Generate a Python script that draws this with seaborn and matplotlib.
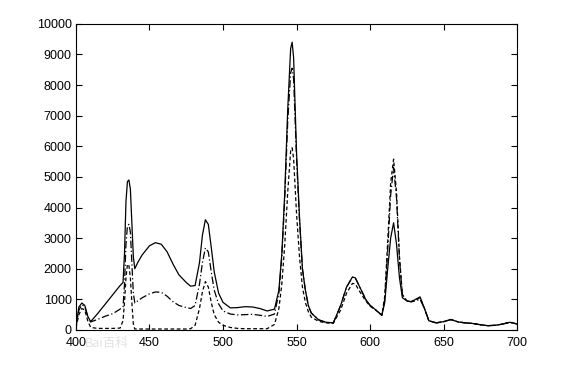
import numpy as np
import pandas as pd
import matplotlib
matplotlib.use("Agg")
import matplotlib.pyplot as plt
import seaborn as sns

# ============================================================
# Spectrum data
# ============================================================

wavelength = [400, 402, 404, 406, 408, 410, 415, 420, 425, 430,
              432, 433, 434, 435, 436, 437, 438, 439, 440, 442,
              445, 450, 454, 458, 462, 466, 470, 475, 478, 481,
              484, 486, 488, 490, 492, 494, 497, 500, 505, 510,
              515, 520, 525, 530, 535, 538, 540, 542, 544, 546,
              547, 548, 550, 552, 554, 556, 558, 560, 565, 570,
              575, 580, 584, 588, 590, 593, 597, 600, 604, 608,
              610, 612, 614, 616, 618, 620, 622, 625, 628, 631,
              634, 637, 640, 645, 650, 655, 660, 665, 670, 675,
              680, 685, 690, 695, 698, 700]

solid = [150, 750, 880, 800, 450, 270, 550, 850, 1150, 1450,
         1550, 2500, 4200, 4850, 4900, 4600, 3500, 2400, 2000, 2200,
         2450, 2750, 2850, 2800, 2550, 2150, 1800, 1550, 1430, 1450,
         2200, 3100, 3600, 3450, 2700, 1900, 1200, 900, 720, 730,
         760, 750, 700, 620, 680, 1300, 2500, 4500, 7200, 9200,
         9400, 8900, 5800, 3700, 2000, 1300, 800, 550, 330, 250,
         230, 800, 1400, 1730, 1700, 1400, 1000, 800, 650, 480,
         900, 2000, 3000, 3500, 2800, 1700, 1050, 950, 920, 1000,
         1080, 700, 300, 230, 270, 340, 260, 230, 210, 170,
         140, 150, 190, 250, 220, 190]

dashdot = [100, 650, 820, 760, 430, 260, 350, 450, 530, 680,
           750, 1500, 2800, 3400, 3450, 3200, 2200, 1200, 880, 950,
           1050, 1180, 1240, 1230, 1100, 920, 800, 730, 700, 800,
           1500, 2200, 2680, 2550, 1900, 1300, 850, 620, 520, 490,
           500, 510, 480, 440, 520, 1200, 2400, 4300, 6800, 8400,
           8550, 8200, 5600, 3600, 2000, 1300, 800, 560, 330, 250,
           230, 800, 1400, 1720, 1690, 1400, 1000, 800, 650, 480,
           1000, 2600, 4400, 5300, 4300, 2300, 1150, 950, 920, 950,
           1000, 700, 300, 230, 270, 340, 260, 230, 210, 170,
           140, 150, 190, 250, 220, 190]

dashed = [80, 500, 700, 650, 300, 80, 50, 50, 50, 60,
          300, 900, 1700, 2150, 2100, 1700, 900, 200, 30, 30,
          30, 30, 30, 30, 30, 30, 30, 30, 40, 150,
          700, 1250, 1580, 1400, 900, 500, 250, 150, 80, 50,
          40, 40, 40, 40, 180, 700, 1500, 2800, 4500, 5850,
          5950, 5600, 3800, 2400, 1400, 900, 600, 420, 280, 230,
          220, 650, 1200, 1520, 1500, 1250, 950, 780, 640, 480,
          1100, 2900, 4800, 5580, 4500, 2400, 1150, 950, 930, 980,
          1050, 700, 300, 230, 270, 340, 260, 230, 210, 170,
          140, 150, 190, 250, 220, 190]

df = pd.DataFrame({"wavelength": wavelength, "solid": solid,
                   "dashdot": dashdot, "dashed": dashed})

# ============================================================
# Plot
# ============================================================

sns.set_style("ticks")
plt.rcParams["font.family"] = ["Liberation Sans", "DejaVu Sans"]

fig = plt.figure(figsize=(5.67, 3.67), dpi=100)
ax = fig.add_axes([0.134, 0.101, 0.778, 0.834])

sns.lineplot(data=df, x="wavelength", y="solid", ax=ax, color="black", linewidth=0.9)
sns.lineplot(data=df, x="wavelength", y="dashdot", ax=ax, color="black", linewidth=0.9,
             linestyle=(0, (6, 2, 1, 2)))
sns.lineplot(data=df, x="wavelength", y="dashed", ax=ax, color="black", linewidth=0.9,
             linestyle=(0, (3, 2)))

ax.set_xlim(400, 700)
ax.set_ylim(0, 10000)
ax.set_xticks(np.arange(400, 701, 50))
ax.set_yticks(np.arange(0, 10001, 1000))
ax.set_xlabel("")
ax.set_ylabel("")
ax.tick_params(direction="in", top=True, right=True, length=4, width=0.8,
               labelsize=9, colors="black")
ax.tick_params(axis="x", pad=5)
ax.tick_params(axis="y", pad=3)
for s in ax.spines.values():
    s.set_visible(True)
    s.set_linewidth(0.8)
    s.set_color("black")

# faint watermark
fig.text(0.15, 0.055, "Bai百科", color="#e2e2e2", fontsize=9,
         family=["Noto Sans CJK SC", "DejaVu Sans"])

fig.savefig("out.png", dpi=100, facecolor="white")
